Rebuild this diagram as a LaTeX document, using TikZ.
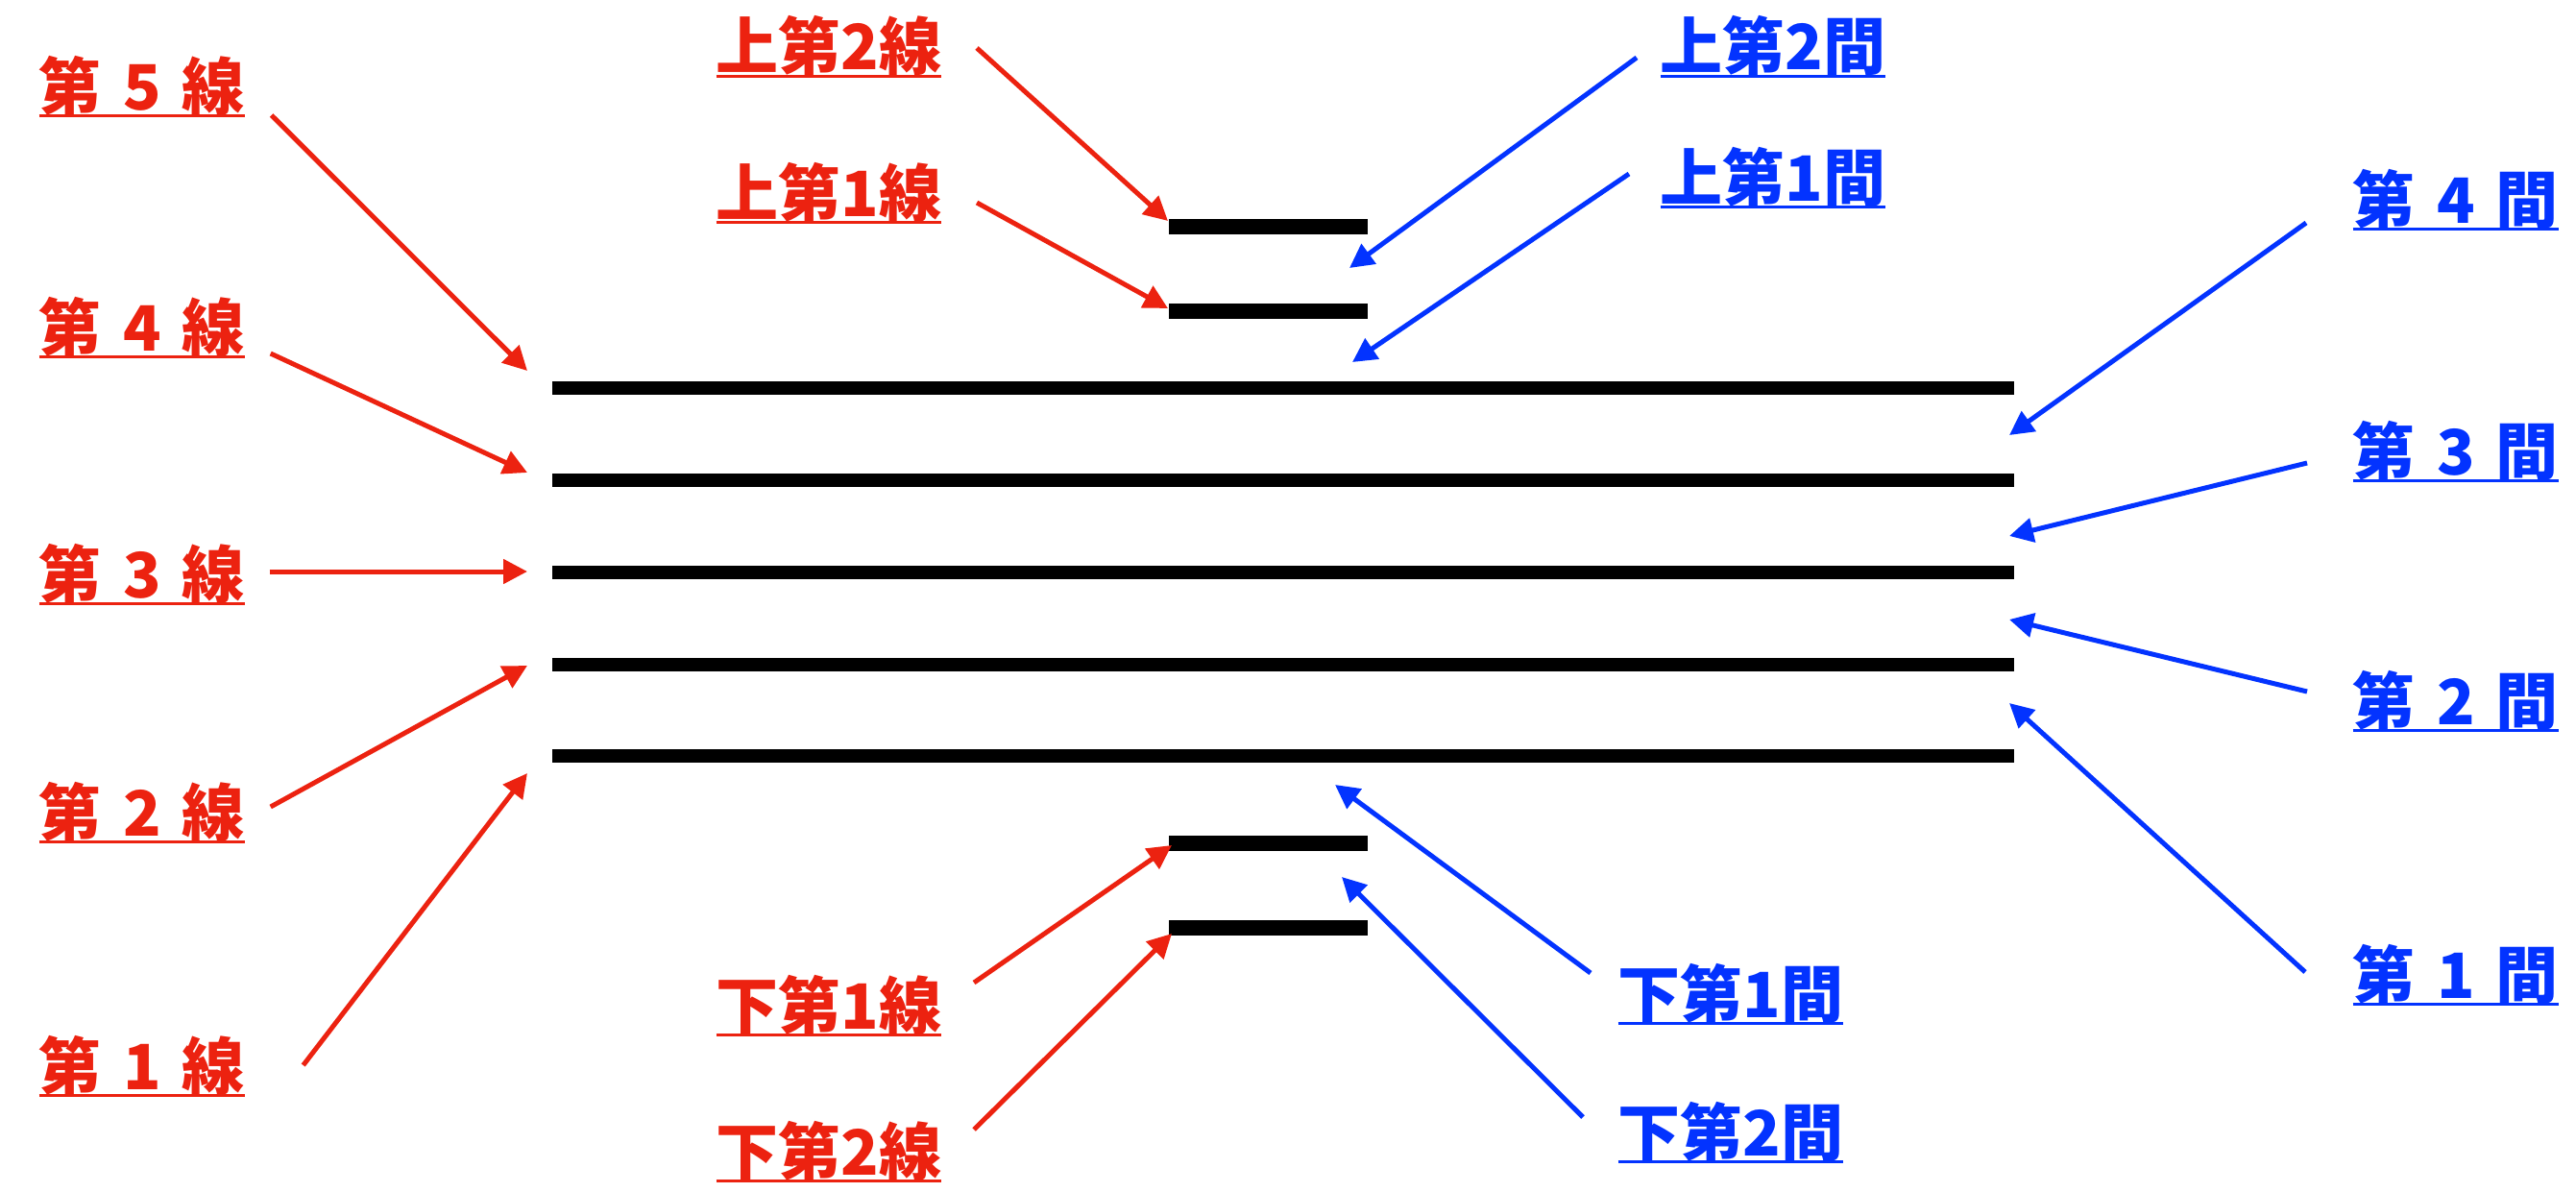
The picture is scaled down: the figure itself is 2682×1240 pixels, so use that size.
\documentclass[tikz,border=0pt]{standalone}
\usepackage{fontspec}
\usetikzlibrary{arrows.meta}

\newfontfamily\jpfont{Noto Sans CJK JP}[WordSpace=1.5]
\definecolor{linered}{RGB}{236,34,16}
\definecolor{spaceblue}{RGB}{3,51,255}
% underlined label text
\newcommand{\ulbox}[1]{\setbox0=\hbox{#1}\rlap{\rule[-0.13em]{\wd0}{0.06em}}\box0}

\begin{document}
\begin{tikzpicture}[x=0.1mm, y=-0.1mm,
    staffline/.style={line width=1.35mm, black},
    ledgerline/.style={line width=1.6mm, black},
    lbl/.style={inner sep=0pt, anchor=base west, font=\jpfont\bfseries\fontsize{18.5}{20}\selectfont},
    linelbl/.style={lbl, text=linered},
    spacelbl/.style={lbl, text=spaceblue},
    linearrow/.style={linered, line width=0.5mm, -{Triangle[length=2.5mm,width=2.5mm]}},
    spacearrow/.style={spaceblue, line width=0.5mm, -{Triangle[length=2.5mm,width=2.5mm]}}]

    \useasboundingbox (0,0) rectangle (2682,1240);

    % the five lines of the staff
    \foreach \y in {404,500,596,692,787}
        \draw[staffline] (575,\y) -- (2097,\y);

    % ledger lines above and below the staff
    \foreach \y in {236,324,878,966}
        \draw[ledgerline] (1217,\y) -- (1424,\y);

    % names of the lines (red)
    \node[linelbl] (line5) at (40,114) {\ulbox{第 5 線}};
    \node[linelbl] (line4) at (40,365) {\ulbox{第 4 線}};
    \node[linelbl] (line3) at (40,622) {\ulbox{第 3 線}};
    \node[linelbl] (line2) at (40,870) {\ulbox{第 2 線}};
    \node[linelbl] (line1) at (40,1134) {\ulbox{第 1 線}};
    \node[linelbl] (upline2) at (745,73) {\ulbox{上第2線}};
    \node[linelbl] (upline1) at (745,225) {\ulbox{上第1線}};
    \node[linelbl] (lowline1) at (745,1071) {\ulbox{下第1線}};
    \node[linelbl] (lowline2) at (745,1223) {\ulbox{下第2線}};

    % names of the spaces (blue)
    \node[spacelbl] (upspace2) at (1728,73) {\ulbox{上第2間}};
    \node[spacelbl] (upspace1) at (1728,209) {\ulbox{上第1間}};
    \node[spacelbl] (space4) at (2449,232) {\ulbox{第 4 間}};
    \node[spacelbl] (space3) at (2449,494) {\ulbox{第 3 間}};
    \node[spacelbl] (space2) at (2449,754) {\ulbox{第 2 間}};
    \node[spacelbl] (space1) at (2449,1039) {\ulbox{第 1 間}};
    \node[spacelbl] (lowspace1) at (1684,1059) {\ulbox{下第1間}};
    \node[spacelbl] (lowspace2) at (1684,1203) {\ulbox{下第2間}};

    % where the arrows point
    \coordinate (tipline5) at (549,386);
    \coordinate (tipline4) at (549,492);
    \coordinate (tipline3) at (549,595);
    \coordinate (tipline2) at (549,693);
    \coordinate (tipline1) at (549,805);
    \coordinate (tipupline2) at (1216,230);
    \coordinate (tipupline1) at (1216,321);
    \coordinate (tiplowline1) at (1220,880);
    \coordinate (tiplowline2) at (1220,972);
    \coordinate (tipupspace2) at (1405,279);
    \coordinate (tipupspace1) at (1408,377);
    \coordinate (tipspace4) at (2092,453);
    \coordinate (tipspace3) at (2092,558);
    \coordinate (tipspace2) at (2092,645);
    \coordinate (tipspace1) at (2092,732);
    \coordinate (tiplowspace1) at (1390,817);
    \coordinate (tiplowspace2) at (1397,913);

    % red arrows to the lines
    \draw[linearrow] ([shift={(27,6)}]line5.base east) -- (tipline5);
    \draw[linearrow] ([shift={(26,3)}]line4.base east) -- (tipline4);
    \draw[linearrow] ([shift={(25,-27)}]line3.base east) -- (tipline3);
    \draw[linearrow] ([shift={(26,-30)}]line2.base east) -- (tipline2);
    \draw[linearrow] ([shift={(60,-25)}]line1.base east) -- (tipline1);
    \draw[linearrow] ([shift={(36,-23)}]upline2.base east) -- (tipupline2);
    \draw[linearrow] ([shift={(36,-14)}]upline1.base east) -- (tipupline1);
    \draw[linearrow] ([shift={(33,-48)}]lowline1.base east) -- (tiplowline1);
    \draw[linearrow] ([shift={(33,-47)}]lowline2.base east) -- (tiplowline2);

    % blue arrows to the spaces
    \draw[spacearrow] ([shift={(-24,-13)}]upspace2.base west) -- (tipupspace2);
    \draw[spacearrow] ([shift={(-32,-28)}]upspace1.base west) -- (tipupspace1);
    \draw[spacearrow] ([shift={(-48,0)}]space4.base west) -- (tipspace4);
    \draw[spacearrow] ([shift={(-47,-12)}]space3.base west) -- (tipspace3);
    \draw[spacearrow] ([shift={(-47,-34)}]space2.base west) -- (tipspace2);
    \draw[spacearrow] ([shift={(-49,-27)}]space1.base west) -- (tipspace1);
    \draw[spacearrow] ([shift={(-28,-46)}]lowspace1.base west) -- (tiplowspace1);
    \draw[spacearrow] ([shift={(-36,-40)}]lowspace2.base west) -- (tiplowspace2);

\end{tikzpicture}
\end{document}
